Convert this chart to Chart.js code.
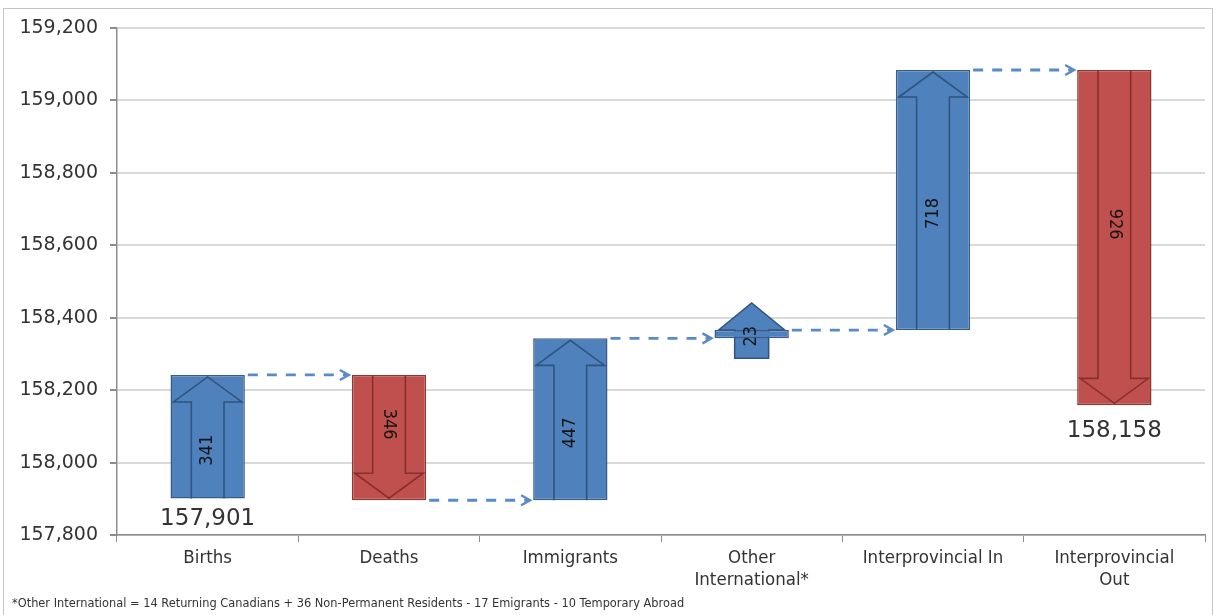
<!DOCTYPE html>
<html lang="en">
<head>
    <meta charset="UTF-8">
    <title>Population Change Waterfall</title>
    <script src="https://cdn.jsdelivr.net/npm/chart.js"></script>
    <style>
        body {
            margin: 0;
            padding: 0;
            background: #ffffff;
        }
        #wrap {
            position: relative;
            width: 1217px;
            height: 615px;
            overflow: hidden;
        }
        #frame {
            position: absolute;
            left: 3px;
            top: 8px;
            width: 1208px;
            height: 640px;
            border: 1.5px solid #c4c4c4;
        }
        #chart {
            position: absolute;
            left: 0;
            top: 0;
        }
        #note {
            position: absolute;
            left: 12px;
            top: 596px;
            font-family: 'DejaVu Sans', sans-serif;
            font-size: 11.4px;
            color: #333;
            white-space: nowrap;
        }
    </style>
</head>
<body>
    <div id="wrap">
        <div id="frame"></div>
        <canvas id="chart" width="1217" height="615"></canvas>
        <div id="note">*Other International = 14 Returning Canadians + 36 Non-Permanent Residents - 17 Emigrants - 10 Temporary Abroad</div>
    </div>

    <script>
        // categories and values
        const categories = ["Births", "Deaths", "Immigrants", ["Other", "International*"], "Interprovincial In", ["Interprovincial", "Out"]];
        const changes = [341, -346, 447, 23, 718, -926];
        const barLow = [157901, 157896, 157896, 158343, 158366, 158158];
        const barHigh = [158242, 158242, 158343, 158366, 159084, 159084];
        const startValue = 157901;
        const endValue = 158158;
        const yTicks = [157800, 158000, 158200, 158400, 158600, 158800, 159000, 159200];

        const BLUE = "#4f81bd", BLUE_DARK = "#2f5480";
        const RED = "#c0504d", RED_DARK = "#8a2f2c";
        const condensed = "'DejaVu Sans Condensed', 'Liberation Sans Narrow', 'Liberation Sans', sans-serif";

        const fmt = v => v.toLocaleString("en-US");

        // arrows inside bars, value labels, connectors and start/end labels
        const waterfallDecor = {
            id: "waterfallDecor",
            beforeDatasetsDraw(chart) {
                const ctx = chart.ctx;
                const meta = chart.getDatasetMeta(0);
                meta.data.forEach((bar, i) => {
                    const p = bar.getProps(["x", "y", "base"], true);
                    const top = Math.min(p.y, p.base), bottom = Math.max(p.y, p.base);
                    if (bottom - top > 30) return;
                    // small bar: full arrow shape behind it
                    const cx = p.x;
                    ctx.save();
                    ctx.beginPath();
                    ctx.moveTo(cx - 17, bottom + 20);
                    ctx.lineTo(cx - 17, top);
                    ctx.lineTo(cx - 33, top);
                    ctx.lineTo(cx, top - 27);
                    ctx.lineTo(cx + 33, top);
                    ctx.lineTo(cx + 17, top);
                    ctx.lineTo(cx + 17, bottom + 20);
                    ctx.closePath();
                    ctx.fillStyle = changes[i] > 0 ? BLUE : RED;
                    ctx.fill();
                    ctx.lineWidth = 1.5;
                    ctx.strokeStyle = changes[i] > 0 ? BLUE_DARK : RED_DARK;
                    ctx.stroke();
                    ctx.restore();
                });
            },
            afterDatasetsDraw(chart) {
                const ctx = chart.ctx;
                const yScale = chart.scales.y;
                const meta = chart.getDatasetMeta(0);
                const boxes = meta.data.map(bar => {
                    const p = bar.getProps(["x", "y", "base", "width"], true);
                    return {
                        cx: p.x,
                        left: p.x - p.width / 2,
                        right: p.x + p.width / 2,
                        top: Math.min(p.y, p.base),
                        bottom: Math.max(p.y, p.base),
                        w: p.width
                    };
                });

                boxes.forEach((b, i) => {
                    const up = changes[i] > 0;
                    const small = b.bottom - b.top <= 30;
                    let textY;
                    ctx.save();
                    if (!small) {
                        const sw = b.w * 0.22;
                        const headH = 27;
                        ctx.beginPath();
                        if (up) {
                            const baseY = b.top + headH;
                            ctx.moveTo(b.cx - sw, b.bottom);
                            ctx.lineTo(b.cx - sw, baseY);
                            ctx.lineTo(b.left + 3, baseY);
                            ctx.lineTo(b.cx, b.top + 2);
                            ctx.lineTo(b.right - 3, baseY);
                            ctx.lineTo(b.cx + sw, baseY);
                            ctx.lineTo(b.cx + sw, b.bottom);
                            textY = (baseY + b.bottom) / 2;
                        } else {
                            const baseY = b.bottom - headH;
                            ctx.moveTo(b.cx - sw, b.top);
                            ctx.lineTo(b.cx - sw, baseY);
                            ctx.lineTo(b.left + 3, baseY);
                            ctx.lineTo(b.cx, b.bottom - 2);
                            ctx.lineTo(b.right - 3, baseY);
                            ctx.lineTo(b.cx + sw, baseY);
                            ctx.lineTo(b.cx + sw, b.top);
                            textY = (baseY + b.top) / 2;
                        }
                        ctx.lineWidth = 1.6;
                        ctx.strokeStyle = up ? BLUE_DARK : RED_DARK;
                        ctx.stroke();
                    } else {
                        textY = (b.top + b.bottom) / 2 + 2;
                    }
                    // rotated value label
                    ctx.translate(b.cx, textY);
                    ctx.rotate(up ? -Math.PI / 2 : Math.PI / 2);
                    ctx.fillStyle = "#141414";
                    ctx.font = "18px " + condensed;
                    ctx.textAlign = "center";
                    ctx.textBaseline = "middle";
                    ctx.fillText(String(Math.abs(changes[i])), 0, 0);
                    ctx.restore();
                });

                // dashed connectors between bars
                ctx.save();
                ctx.strokeStyle = "#5b8ac8";
                ctx.lineWidth = 2.8;
                for (let i = 0; i < boxes.length - 1; i++) {
                    const level = changes[i] > 0 ? barHigh[i] : barLow[i];
                    const y = yScale.getPixelForValue(level);
                    const x1 = boxes[i].right + 3;
                    const x2 = boxes[i + 1].left - 3;
                    ctx.setLineDash([10, 9]);
                    ctx.beginPath();
                    ctx.moveTo(x1, y);
                    ctx.lineTo(x2 - 2, y);
                    ctx.stroke();
                    ctx.setLineDash([]);
                    ctx.lineWidth = 2.4;
                    ctx.beginPath();
                    ctx.moveTo(x2 - 9, y - 5);
                    ctx.lineTo(x2, y);
                    ctx.lineTo(x2 - 9, y + 5);
                    ctx.stroke();
                    ctx.lineWidth = 2.8;
                }
                ctx.restore();

                // start and end totals
                ctx.save();
                ctx.fillStyle = "#333";
                ctx.font = "23px 'DejaVu Sans', sans-serif";
                ctx.textAlign = "center";
                ctx.textBaseline = "middle";
                const first = boxes[0], last = boxes[boxes.length - 1];
                ctx.fillText(fmt(startValue), first.cx, first.bottom + 21);
                ctx.fillText(fmt(endValue), last.cx, last.bottom + 26);
                ctx.restore();
            }
        };

        const ctx = document.getElementById("chart").getContext("2d");
        new Chart(ctx, {
            type: "bar",
            data: {
                labels: categories,
                datasets: [{
                    data: barLow.map((lo, i) => [lo, barHigh[i]]),
                    backgroundColor: changes.map(c => c > 0 ? BLUE : RED),
                    borderColor: changes.map(c => c > 0 ? "#385d8a" : "#8c3836"),
                    borderWidth: 1.5,
                    borderSkipped: false,
                    barPercentage: 0.41,
                    categoryPercentage: 1
                }]
            },
            options: {
                responsive: false,
                animation: false,
                layout: { padding: { left: 8, right: 12, top: 28, bottom: 0 } },
                plugins: {
                    legend: { display: false },
                    tooltip: { enabled: false }
                },
                scales: {
                    x: {
                        grid: { drawOnChartArea: false, offset: true, tickLength: 7, color: "#8c8c8c" },
                        border: { color: "#8c8c8c", width: 1.5 },
                        ticks: {
                            color: "#333",
                            font: { family: condensed, size: 18.5 },
                            padding: 5,
                            maxRotation: 0,
                            autoSkip: false
                        },
                        afterFit: s => { s.height = 80; }
                    },
                    y: {
                        min: yTicks[0],
                        max: yTicks[yTicks.length - 1],
                        afterBuildTicks: s => { s.ticks = yTicks.map(v => ({ value: v })); },
                        ticks: {
                            callback: v => fmt(v),
                            color: "#333",
                            font: { family: "'DejaVu Sans', sans-serif", size: 19 },
                            padding: 12
                        },
                        grid: { color: "#d9d9d9", lineWidth: 2, tickLength: 7, tickColor: "#8c8c8c" },
                        border: { color: "#8c8c8c", width: 1.5 },
                        afterFit: s => { s.width = 109; }
                    }
                }
            },
            plugins: [waterfallDecor]
        });
    </script>
</body>
</html>
